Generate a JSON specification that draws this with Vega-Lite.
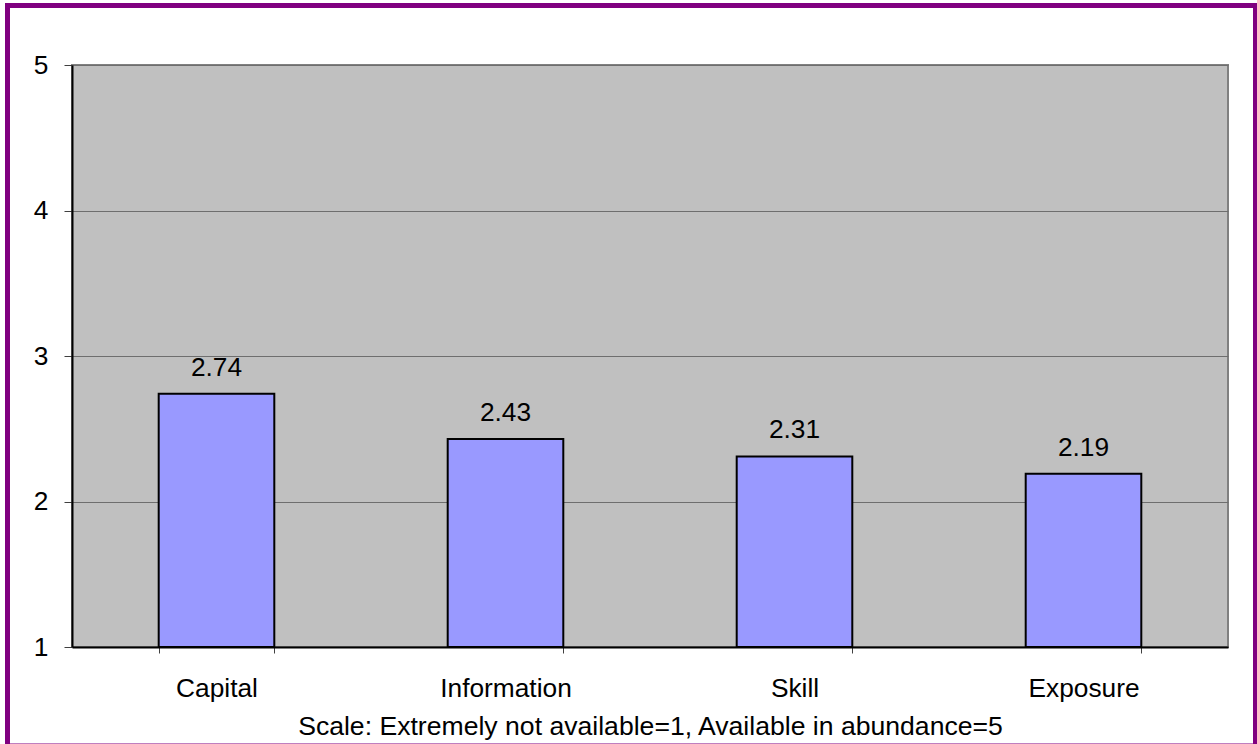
{
  "$schema": "https://vega.github.io/schema/vega-lite/v6.json",
  "width": 1156,
  "height": 582,
  "autosize": {"type": "none"},
  "padding": {"left": 72, "top": 65, "right": 29, "bottom": 97},
  "background": "white",
  "config": {
    "font": "Liberation Sans",
    "view": {"fill": "#C0C0C0", "stroke": "#808080", "strokeWidth": 2}
  },
  "data": {
    "values": [
      {"factor": "Capital", "score": 2.74},
      {"factor": "Information", "score": 2.43},
      {"factor": "Skill", "score": 2.31},
      {"factor": "Exposure", "score": 2.19}
    ]
  },
  "layer": [
    {
      "mark": {"type": "bar", "fill": "#9999FF", "stroke": "black", "strokeWidth": 2},
      "encoding": {
        "x": {
          "field": "factor",
          "type": "nominal",
          "sort": null,
          "scale": {"paddingInner": 0.6, "paddingOuter": 0.3},
          "axis": {
            "title": "Scale: Extremely not available=1, Available in abundance=5",
            "titleFont": "Liberation Sans",
            "titleFontSize": 26.6,
            "titleFontWeight": "normal",
            "titleColor": "black",
            "titlePadding": 12,
            "labelAngle": 0,
            "labelFontSize": 26.3,
            "labelColor": "black",
            "labelPadding": 22,
            "tickBand": "extent",
            "tickSize": 6,
            "tickColor": "#404040",
            "domainColor": "black",
            "domainWidth": 2,
            "grid": false
          }
        },
        "y": {
          "field": "score",
          "type": "quantitative",
          "scale": {"domain": [1, 5], "zero": false, "nice": false},
          "axis": {
            "title": null,
            "values": [1, 2, 3, 4, 5],
            "format": "d",
            "labelFontSize": 26.3,
            "labelColor": "black",
            "labelPadding": 16,
            "tickSize": 8,
            "tickColor": "#404040",
            "domainColor": "black",
            "domainWidth": 2,
            "gridColor": "#6E6E6E",
            "gridWidth": 1,
            "gridOpacity": 1
          }
        },
        "y2": {"datum": 1}
      }
    },
    {
      "mark": {"type": "text", "fontSize": 26.3, "color": "black", "baseline": "alphabetic", "dy": -18},
      "encoding": {
        "x": {"field": "factor", "type": "nominal", "sort": null},
        "y": {"field": "score", "type": "quantitative"},
        "text": {"field": "score", "type": "quantitative", "format": ".2f"}
      }
    },
    {
      "data": {"values": [{"frame": "chart area"}]},
      "mark": {"type": "rect", "fill": null, "stroke": "#800080", "strokeWidth": 5, "clip": false},
      "encoding": {
        "x": {"value": -64.5},
        "x2": {"value": 1183.5},
        "y": {"value": -59.5},
        "y2": {"value": 681}
      }
    }
  ]
}
